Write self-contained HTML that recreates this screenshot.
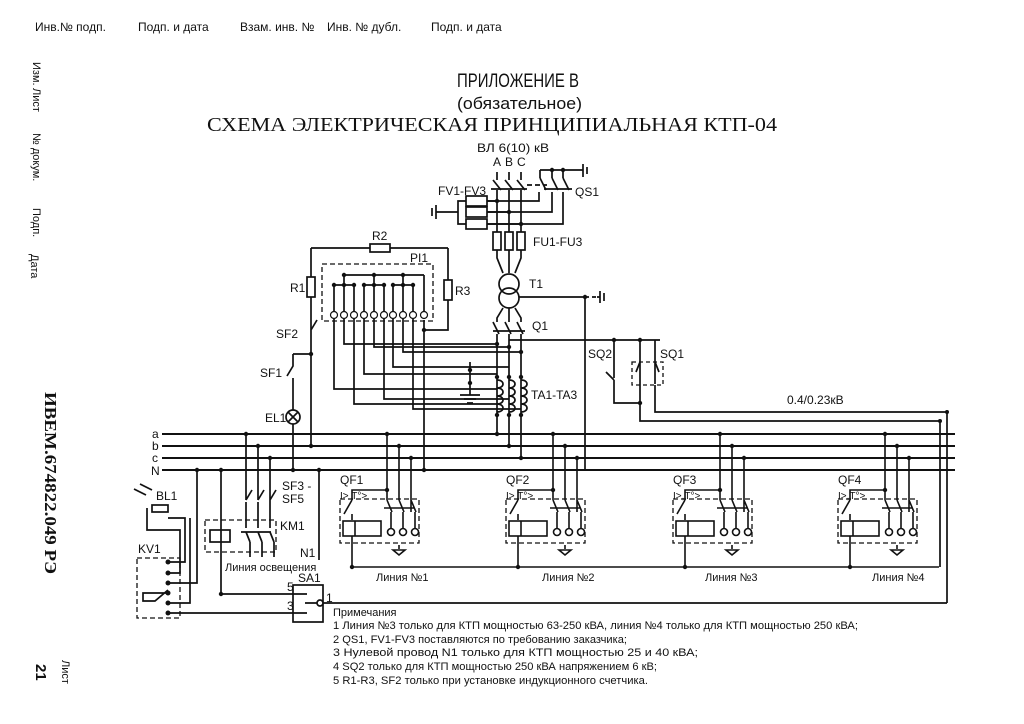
<!DOCTYPE html>
<html><head><meta charset="utf-8">
<style>
html,body{margin:0;padding:0;background:#fff;}
svg{display:block;}
text{font-family:"Liberation Sans","DejaVu Sans",sans-serif;fill:#111;}
</style></head>
<body>
<svg width="1024" height="724" viewBox="0 0 1024 724" xmlns="http://www.w3.org/2000/svg">
<rect width="1024" height="724" fill="#fff"/>
<g font-size="12">
<text x="35" y="31">Инв.№ подп.</text>
<text x="138" y="31">Подп. и дата</text>
<text x="240" y="31">Взам. инв. №</text>
<text x="327" y="31">Инв. № дубл.</text>
<text x="431" y="31">Подп. и дата</text>
</g>
<g font-size="11">
<text transform="translate(33,62) rotate(90)">Изм.</text>
<text transform="translate(33,88) rotate(90)">Лист</text>
<text transform="translate(33,133) rotate(90)">№ докум.</text>
<text transform="translate(33,208) rotate(90)">Подп.</text>
<text transform="translate(31,254) rotate(90)">Дата</text>
<text transform="translate(62,660) rotate(90)">Лист</text>
</g>
<text transform="translate(45,392) rotate(90)" font-weight="bold" font-size="17" textLength="182" lengthAdjust="spacingAndGlyphs" style="font-family:'Liberation Serif',serif">ИВЕМ.674822.049 РЭ</text>
<text transform="translate(36,664) rotate(90)" font-weight="bold" font-size="15">21</text>
<text x="457" y="87" font-size="19" textLength="122" lengthAdjust="spacingAndGlyphs">ПРИЛОЖЕНИЕ В</text>
<text x="457" y="109" font-size="17" textLength="125" lengthAdjust="spacingAndGlyphs">(обязательное)</text>
<text x="207" y="131" font-size="20" style="font-family:'Liberation Serif',serif" textLength="570" lengthAdjust="spacingAndGlyphs">СХЕМА ЭЛЕКТРИЧЕСКАЯ ПРИНЦИПИАЛЬНАЯ КТП-04</text>

<g stroke="#111" stroke-width="1.7" fill="none">
<path d="M497 172V180M509 172V180M521 172V180"/>
<path d="M493 180l8 10M505 180l8 10M517 180l8 10"/>
<path d="M491 189h36"/>
<path d="M497 190V232M509 190V232M521 190V232"/>
<path d="M527 185h20" stroke-dasharray="5,3"/>
<path d="M540 170h43M552 170v8M563 170v8M540 170v8"/>
<path d="M540 178l6 12M552 178l6 12M563 178l6 12"/>
<path d="M544 189h28"/>
<path d="M539 192v9h-52M552 192v20h-65M563 192v32h-76"/>
<path d="M466 201h-8v23h8M458 212h-22"/>
<rect x="466" y="196" width="21" height="10"/><rect x="466" y="207" width="21" height="10"/><rect x="466" y="219" width="21" height="10"/>
<path d="M497 201h-10M509 212h-22M521 224h-34"/>
<path d="M436 205v14M432 208v8M583 164v13M587 167v7"/>
<rect x="493" y="232" width="8" height="18"/><rect x="505" y="232" width="8" height="18"/><rect x="517" y="232" width="8" height="18"/>
<path d="M497 250v8l6 15M509 250v23M521 250v8l-6 15"/>
<circle cx="509" cy="284" r="10"/><circle cx="509" cy="298" r="10"/>
<path d="M503 308l-6 10v4M509 308v14M515 308l6 10v4"/>
<path d="M519 297h66"/><path d="M585 297h12" stroke-dasharray="4,3"/>
<path d="M600 291v12M604 293v8M597 297h3"/>
<path d="M585 297V470"/>
<path d="M493 322l6 12M505 322l6 12M517 322l6 12M493 331h32"/>
<path d="M497 334V434M509 334V446M521 334V458"/>
<path d="M509 340H660M614 340v38M614 380l-8-8M614 380v23h26M640 340v81h300v146M655 340v44M655 385v27h292v191"/>
<rect x="632" y="362" width="31" height="23" stroke-dasharray="4,3" stroke-width="1.3"/>
<path d="M640 362l-4 10M655 362l4 10"/>
<path d="M497 380c8 0 8 8 0 8c8 0 8 8 0 8c8 0 8 8 0 8c8 0 8 8 0 8M509 380c8 0 8 8 0 8c8 0 8 8 0 8c8 0 8 8 0 8c8 0 8 8 0 8M521 380c8 0 8 8 0 8c8 0 8 8 0 8c8 0 8 8 0 8c8 0 8 8 0 8"/>
<path d="M470 362v33M460 395h20M464 399h12M467 403h6"/>
<path d="M311 248h137M311 248v82M448 248v82h-24M424 320V470"/>
<rect x="370" y="244" width="20" height="8" fill="#fff"/>
<rect x="307" y="277" width="8" height="20" fill="#fff"/>
<rect x="444" y="280" width="8" height="20" fill="#fff"/>
<rect x="322" y="264" width="111" height="57" stroke-dasharray="5,3" stroke-width="1.3"/>
<path d="M344 275h80M334 285h20M364 285h20M393 285h20M344 275v10M374 275v10M403 275v10M344 285v26M374 285v26M403 285v26M334 285v26M354 285v26M364 285v26M384 285v26M393 285v26M413 285v26M424 275v36"/>
<path d="M344 319v25h153M374 319v28h135M403 319v33h118M364 319v55h133M393 319v48h116M334 319v70h163M354 319v85h143M384 319v80h125M413 319v90h108"/>
<path d="M311 330l6 -10M311 330v116M293 354h18M293 354v12l-6 10M293 378v32M293 424V470"/>
<circle cx="293" cy="417" r="7" fill="#fff"/><path d="M288 412l10 10M298 412l-10 10"/>
<path d="M162 434H955M162 446H955M162 458H955M162 470H955" stroke-width="1.9"/>
<path d="M246 434v66M258 446v54M270 458v54M246 500l6-10M258 500l6-10M270 500l6-10M246 502v26M258 502v26M270 502v26M241 532h30M246 532l4 10M258 532l4 10M270 532l4 10M250 542v15M262 542v15M274 542v15"/>
<rect x="205" y="520" width="71" height="32" stroke-dasharray="5,3" stroke-width="1.3"/>
<rect x="210" y="530" width="20" height="12" fill="#fff"/>
<path d="M197 470v113h-29M221 470v124h86M319 470v90M168 613h139M168 603h22v-85"/>
<path d="M147 508v22h33v43h-12M168 562h17v-44h-17"/>
<rect x="152" y="505" width="16" height="7" fill="#fff"/>
<path d="M137 558h43v60h-43z" stroke-dasharray="5,3" stroke-width="1.3"/>
<path d="M168 593h-25v8h12l13-11"/>
<rect x="293" y="585" width="30" height="37"/>
<path d="M305 603h12M323 603H947"/>
<circle cx="320" cy="603" r="3" fill="#fff"/>
<path d="M134 489l12 6M140 484l12 6"/>
</g>
<g stroke="#111" stroke-width="1.6" fill="none">
<g id="qf">
<path d="M387 434v66M399 446v54M411 458v54M387 500l5 12M399 500l5 12M411 500l5 12M384 508h30M391 512v16M403 512v16M415 512v16M387 490h-35v10M352 500l-8 14M352 514v6"/>
<rect x="340" y="499" width="79" height="44" stroke-dasharray="5,3" stroke-width="1.3"/>
<rect x="343" y="521" width="38" height="15" fill="#fff"/>
<path d="M355 521v15M352 536v31"/>
<circle cx="391" cy="532" r="3.5" fill="#fff"/><circle cx="403" cy="532" r="3.5" fill="#fff"/><circle cx="415" cy="532" r="3.5" fill="#fff"/>
<path d="M399 545v4M393 550h12l-6 5z"/>
</g>
<use href="#qf" x="166"/>
<use href="#qf" x="333"/>
<use href="#qf" x="498"/>
<path d="M352 567H939"/>
</g>
<g fill="#111">
<circle cx="497" cy="201" r="2.2"/><circle cx="509" cy="212" r="2.2"/><circle cx="521" cy="224" r="2.2"/>
<circle cx="552" cy="170" r="2.2"/><circle cx="563" cy="170" r="2.2"/>
<circle cx="585" cy="297" r="2.2"/><circle cx="614" cy="340" r="2.2"/><circle cx="640" cy="340" r="2.2"/><circle cx="640" cy="403" r="2.2"/>
<circle cx="497" cy="344" r="2.2"/><circle cx="509" cy="347" r="2.2"/><circle cx="521" cy="352" r="2.2"/>
<circle cx="497" cy="377" r="2.2"/><circle cx="509" cy="377" r="2.2"/><circle cx="521" cy="377" r="2.2"/>
<circle cx="497" cy="415" r="2.2"/><circle cx="509" cy="415" r="2.2"/><circle cx="521" cy="415" r="2.2"/>
<circle cx="497" cy="434" r="2.2"/><circle cx="509" cy="446" r="2.2"/><circle cx="521" cy="458" r="2.2"/>
<circle cx="470" cy="370" r="2.2"/><circle cx="470" cy="383" r="2.2"/>
<circle cx="311" cy="354" r="2.2"/><circle cx="311" cy="446" r="2.2"/><circle cx="293" cy="470" r="2.2"/><circle cx="424" cy="330" r="2.2"/><circle cx="424" cy="470" r="2.2"/>
<circle cx="246" cy="434" r="2.2"/><circle cx="258" cy="446" r="2.2"/><circle cx="270" cy="458" r="2.2"/>
<circle cx="197" cy="470" r="2.2"/><circle cx="221" cy="470" r="2.2"/><circle cx="221" cy="594" r="2.2"/><circle cx="319" cy="470" r="2.2"/>
<circle cx="344" cy="275" r="2.2"/><circle cx="374" cy="275" r="2.2"/><circle cx="403" cy="275" r="2.2"/>
<circle cx="344" cy="285" r="2.2"/><circle cx="374" cy="285" r="2.2"/><circle cx="403" cy="285" r="2.2"/>
<circle cx="334" cy="285" r="2.2"/><circle cx="354" cy="285" r="2.2"/><circle cx="364" cy="285" r="2.2"/><circle cx="384" cy="285" r="2.2"/><circle cx="393" cy="285" r="2.2"/><circle cx="413" cy="285" r="2.2"/>
<circle cx="168" cy="562" r="2.5"/><circle cx="168" cy="573" r="2.5"/><circle cx="168" cy="583" r="2.5"/><circle cx="168" cy="593" r="2.5"/><circle cx="168" cy="603" r="2.5"/><circle cx="168" cy="613" r="2.5"/>
<circle cx="940" cy="421" r="2"/><circle cx="947" cy="412" r="2"/>
<g id="qd"><circle cx="387" cy="434" r="2.2"/><circle cx="399" cy="446" r="2.2"/><circle cx="411" cy="458" r="2.2"/><circle cx="387" cy="490" r="2.2"/><circle cx="352" cy="567" r="2.2"/></g>
<use href="#qd" x="166"/><use href="#qd" x="333"/><use href="#qd" x="498"/>
</g>
<g fill="#fff" stroke="#111" stroke-width="1.2">
<circle cx="334" cy="315" r="3.5"/><circle cx="344" cy="315" r="3.5"/><circle cx="354" cy="315" r="3.5"/><circle cx="364" cy="315" r="3.5"/><circle cx="374" cy="315" r="3.5"/><circle cx="384" cy="315" r="3.5"/><circle cx="393" cy="315" r="3.5"/><circle cx="403" cy="315" r="3.5"/><circle cx="413" cy="315" r="3.5"/><circle cx="424" cy="315" r="3.5"/>
</g>
<g font-size="12">
<text x="477" y="152" textLength="72" lengthAdjust="spacingAndGlyphs">ВЛ  6(10) кВ</text>
<text x="493" y="166">A</text><text x="505" y="166">B</text><text x="517" y="166">C</text>
<text x="438" y="195">FV1-FV3</text>
<text x="575" y="196">QS1</text>
<text x="533" y="246">FU1-FU3</text>
<text x="372" y="240">R2</text>
<text x="410" y="262">PI1</text>
<text x="290" y="292">R1</text>
<text x="455" y="295">R3</text>
<text x="529" y="288">T1</text>
<text x="532" y="330">Q1</text>
<text x="276" y="338">SF2</text>
<text x="260" y="377">SF1</text>
<text x="265" y="422">EL1</text>
<text x="588" y="358">SQ2</text>
<text x="660" y="358">SQ1</text>
<text x="531" y="399">TA1-TA3</text>
<text x="787" y="404">0.4/0.23кВ</text>
<text x="152" y="438">a</text><text x="152" y="450">b</text><text x="152" y="462">c</text><text x="151" y="475">N</text>
<text x="282" y="490">SF3 -</text><text x="282" y="503">SF5</text>
<text x="280" y="530">KM1</text>
<text x="156" y="500">BL1</text>
<text x="138" y="553">KV1</text>
<text x="300" y="557">N1</text>
<text x="298" y="582">SA1</text>
<text x="287" y="591">5</text><text x="287" y="610">3</text><text x="326" y="602">1</text>
<text x="225" y="571" font-size="11">Линия освещения</text>
<text x="340" y="484">QF1</text><text x="506" y="484">QF2</text><text x="673" y="484">QF3</text><text x="838" y="484">QF4</text>
<text x="340" y="499" font-size="10">I&gt; T°&gt;</text><text x="506" y="499" font-size="10">I&gt; T°&gt;</text><text x="673" y="499" font-size="10">I&gt;,T°&gt;</text><text x="838" y="499" font-size="10">I&gt;,T°&gt;</text>
<text x="376" y="581" font-size="11">Линия №1</text>
<text x="542" y="581" font-size="11">Линия №2</text>
<text x="705" y="581" font-size="11">Линия №3</text>
<text x="872" y="581" font-size="11">Линия №4</text>
</g>
<g font-size="11">
<text x="333" y="616">Примечания</text>
<text x="333" y="629" textLength="525" lengthAdjust="spacingAndGlyphs">1 Линия №3 только для КТП мощностью 63-250 кВА, линия №4 только для КТП мощностью 250 кВА;</text>
<text x="333" y="643" textLength="294" lengthAdjust="spacingAndGlyphs">2 QS1, FV1-FV3 поставляются по требованию заказчика;</text>
<text x="333" y="656" textLength="365" lengthAdjust="spacingAndGlyphs">3 Нулевой провод N1 только для  КТП мощностью 25 и 40 кВА;</text>
<text x="333" y="670" textLength="324" lengthAdjust="spacingAndGlyphs">4 SQ2 только для КТП мощностью 250 кВА напряжением 6 кВ;</text>
<text x="333" y="684" textLength="315" lengthAdjust="spacingAndGlyphs">5 R1-R3, SF2 только при установке индукционного счетчика.</text>
</g>
</svg>
</body></html>
